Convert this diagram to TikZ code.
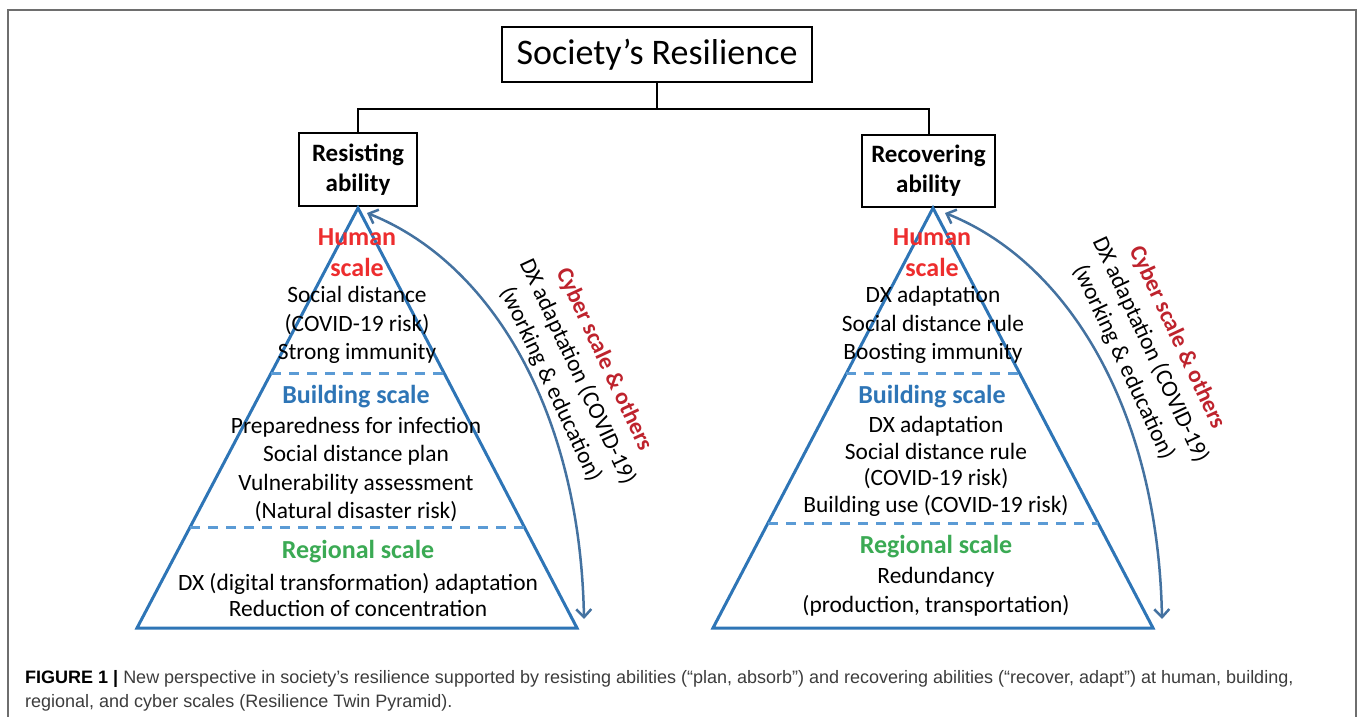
\documentclass[tikz,border=0pt]{standalone}
\usepackage{fontspec}
\setmainfont{Carlito}
\newfontfamily\capfont{Liberation Sans}
\usepackage{tikz}
\usetikzlibrary{arrows.meta,calc,positioning}

\definecolor{HumanRed}{RGB}{237,45,46}
\definecolor{BuildBlue}{RGB}{46,117,182}
\definecolor{RegGreen}{RGB}{59,170,84}
\definecolor{CyberRed}{RGB}{190,35,45}
\definecolor{PyrBlue}{RGB}{46,117,182}
\definecolor{DashBlue}{RGB}{91,155,213}
\definecolor{ArrBlue}{RGB}{68,114,160}
\definecolor{FrameGray}{RGB}{110,110,110}
\definecolor{CapGray}{RGB}{60,60,60}

\begin{document}
\begin{tikzpicture}[x=1pt,y=-1pt,>={Straight Barb[length=8pt,width=15pt]},
  box/.style={draw,line width=2pt,inner sep=0pt,align=center},
  head/.style={font=\fontsize{25}{30}\selectfont\bfseries},
  scalehead/.style={align=center,font=\fontsize{26}{31}\selectfont\bfseries},
  body/.style={align=center,font=\fontsize{23.4}{28.3}\selectfont},
  pyr/.style={draw=PyrBlue,line width=3pt,line join=miter},
  scaleline/.style={draw=DashBlue,line width=3pt,dash pattern=on 10pt off 8pt},
  cyb/.style={draw=ArrBlue,line width=2.5pt,<->}]

\useasboundingbox (0,0) rectangle (1357,717);
\draw[FrameGray,line width=2pt] (8,720) -- (8,10) -- (1356,10) -- (1356,720);

% top of the tree
\node[box,minimum width=310pt,minimum height=55pt,font=\fontsize{36}{40}\selectfont] (Soc) at (657,54.5) {Society’s Resilience};
\node[box,head,minimum width=118pt,minimum height=73pt] (Res) at (358,169.5) {Resisting\\ability};
\node[box,head,minimum width=133pt,minimum height=72pt] (Rec) at (928.5,171) {Recovering\\ability};

\coordinate (Junc) at ($(Soc.south)+(0,26)$);
\draw[line width=2pt] (Soc.south) -- (Junc);
\draw[line width=2pt] (Res.north) |- (Junc) -| (Rec.north);

% resisting pyramid
\coordinate (TopL) at (358,208);
\coordinate (BLL) at (137,628);
\coordinate (BRL) at (577,628);
\draw[pyr] (TopL) -- (BRL) -- (BLL) -- cycle;
\draw[scaleline] ($(TopL)!0.393!(BLL)$) -- ($(TopL)!0.393!(BRL)$);
\draw[scaleline] ($(TopL)!0.76!(BLL)$) -- ($(TopL)!0.76!(BRL)$);

\node[scalehead,text=HumanRed] (HumL) at (357,252.5) {Human\\scale};
\node[body] (HumLtxt) at (357,325) {Social distance\\(COVID-19 risk)\\Strong immunity};
\node[scalehead,text=BuildBlue] (BldL) at (356,397) {Building scale};
\node[body] (BldLtxt) at (356,469.5) {Preparedness for infection\\Social distance plan\\Vulnerability assessment\\(Natural disaster risk)};
\node[scalehead,text=RegGreen] (RegL) at (358,552) {Regional scale};
\node[body,font=\fontsize{23.4}{26}\selectfont] (RegLtxt) at (358,595) {DX (digital transformation) adaptation\\Reduction of concentration};

% recovering pyramid
\coordinate (TopR) at (933,208);
\coordinate (BLR) at (713,628);
\coordinate (BRR) at (1153,628);
\draw[pyr] (TopR) -- (BRR) -- (BLR) -- cycle;
\draw[scaleline] ($(TopR)!0.395!(BLR)$) -- ($(TopR)!0.395!(BRR)$);
\draw[scaleline] ($(TopR)!0.75!(BLR)$) -- ($(TopR)!0.75!(BRR)$);

\node[scalehead,text=HumanRed] (HumR) at (932,252.5) {Human\\scale};
\node[body] (HumRtxt) at (933,325) {DX adaptation\\Social distance rule\\Boosting immunity};
\node[scalehead,text=BuildBlue] (BldR) at (932,397) {Building scale};
\node[body,font=\fontsize{23.4}{26.5}\selectfont] (BldRtxt) at (936,466.5) {DX adaptation\\Social distance rule\\(COVID-19 risk)\\Building use (COVID-19 risk)};
\node[scalehead,text=RegGreen] (RegR) at (936,547) {Regional scale};
\node[body,font=\fontsize{23.4}{29}\selectfont] (RegRtxt) at (936,591.5) {Redundancy\\(production, transportation)};

% cyber scale arcs
\coordinate (CybLtop) at (367,213);
\coordinate (CybLbot) at (584,619);
\draw[cyb] (CybLtop) .. controls +(123,49) and +(-4,-209) .. (CybLbot);
\node[body,font=\fontsize{23.4}{29.5}\selectfont,rotate=-65] (CybL) at (577,372) {\textcolor{CyberRed}{\bfseries Cyber scale \& others}\\DX adaptation (COVID-19)\\(working \& education)};

\coordinate (CybRtop) at (945,213);
\coordinate (CybRbot) at (1162,619);
\draw[cyb] (CybRtop) .. controls +(123,49) and +(-4,-209) .. (CybRbot);
\node[body,font=\fontsize{23.4}{29.5}\selectfont,rotate=-65] (CybR) at (1150,350) {\textcolor{CyberRed}{\bfseries Cyber scale \& others}\\DX adaptation (COVID-19)\\(working \& education)};

% caption
\node[anchor=west,align=left,inner sep=0pt,text=CapGray,font=\capfont\fontsize{18}{24}\selectfont] (Cap) at (25,691) {\textcolor{black}{\bfseries FIGURE 1 |} New perspective in society’s resilience supported by resisting abilities (“plan, absorb”) and recovering abilities (“recover, adapt”) at human, building,\\regional, and cyber scales (Resilience Twin Pyramid).};
\end{tikzpicture}
\end{document}
